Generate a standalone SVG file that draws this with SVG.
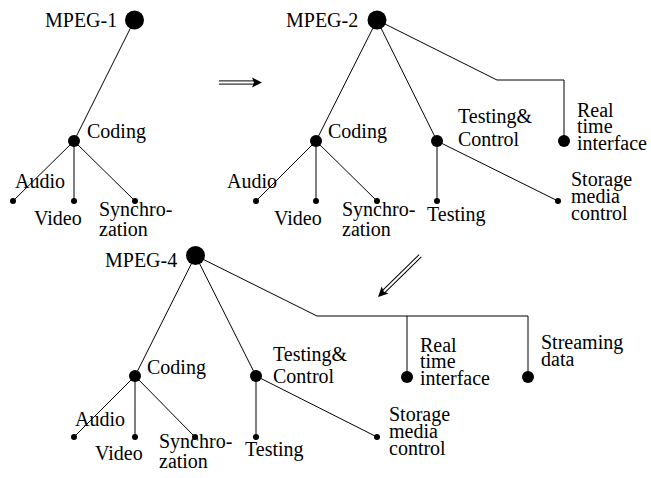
<svg xmlns="http://www.w3.org/2000/svg" width="651" height="478" viewBox="0 0 651 478">
<style>
text{font-family:"Liberation Serif","Times New Roman",serif;font-size:20px;fill:#000}
.c{stroke:#000;stroke-width:1;fill:none}
.n{fill:#000}
</style>
<defs>
<g id="dblarrow">
<line x1="-43" y1="-1.6" x2="-8" y2="-1.6" stroke="#000" stroke-width="1"/>
<line x1="-43" y1="1.6" x2="-8" y2="1.6" stroke="#000" stroke-width="1"/>
<polygon points="-10,-5 0,0 -10,5 -8,0" fill="#000"/>
</g>
<g id="dblarrow2">
<line x1="-59" y1="-1.6" x2="-8" y2="-1.6" stroke="#000" stroke-width="1"/>
<line x1="-59" y1="1.6" x2="-8" y2="1.6" stroke="#000" stroke-width="1"/>
<polygon points="-10,-5 0,0 -10,5 -8,0" fill="#000"/>
</g>
</defs>
<rect width="651" height="478" fill="#fff"/>
<g id="connectors" class="c">
<line x1="134.5" y1="20" x2="74" y2="141"/>
<line x1="74" y1="141" x2="13" y2="201"/>
<line x1="74" y1="141" x2="74" y2="201"/>
<line x1="74" y1="141" x2="135" y2="201"/>
<line x1="377" y1="20" x2="316" y2="141"/>
<line x1="377" y1="20" x2="437" y2="141"/>
<polyline points="377,20 497,80 564,80 564,141"/>
<line x1="316" y1="141" x2="256" y2="201"/>
<line x1="316" y1="141" x2="316" y2="201"/>
<line x1="316" y1="141" x2="377" y2="201"/>
<line x1="437" y1="141" x2="437" y2="201"/>
<line x1="437" y1="141" x2="558" y2="201"/>
<line x1="195.5" y1="255.5" x2="135" y2="376"/>
<line x1="195.5" y1="255.5" x2="256" y2="376"/>
<polyline points="195.5,255.5 317,316 528,316 528,377"/>
<line x1="407" y1="316" x2="407" y2="377"/>
<line x1="135" y1="376" x2="74" y2="437"/>
<line x1="135" y1="376" x2="135" y2="437"/>
<line x1="135" y1="376" x2="195" y2="437"/>
<line x1="256" y1="376" x2="256" y2="437"/>
<line x1="256" y1="376" x2="377" y2="437"/>
</g>
<g id="arrow-1-2"><use href="#dblarrow" transform="translate(262,82.5)"/></g>
<g id="arrow-2-4"><use href="#dblarrow2" transform="translate(378,297) rotate(135.7)"/></g>

<g id="mpeg1"><circle class="n" cx="134.5" cy="20" r="9.5"/><text x="45" y="26.5">MPEG-1</text></g>
<g id="mpeg1-coding"><circle class="n" cx="74" cy="141" r="6"/><text x="87" y="138">Coding</text></g>
<g id="mpeg1-audio"><circle class="n" cx="13" cy="201" r="3"/><text x="15" y="188">Audio</text></g>
<g id="mpeg1-video"><circle class="n" cx="74" cy="201" r="3"/><text x="34" y="225">Video</text></g>
<g id="mpeg1-sync"><circle class="n" cx="135" cy="201" r="3"/><text x="99" y="216">Synchro-</text><text x="99" y="236">zation</text></g>

<g id="mpeg2"><circle class="n" cx="377" cy="20" r="9.5"/><text x="286" y="26.5">MPEG-2</text></g>
<g id="mpeg2-coding"><circle class="n" cx="316" cy="141" r="6"/><text x="328" y="138">Coding</text></g>
<g id="mpeg2-tc"><circle class="n" cx="437" cy="141" r="6"/><text x="458" y="123">Testing&amp;</text><text x="458" y="146">Control</text></g>
<g id="mpeg2-rt"><circle class="n" cx="564" cy="141" r="6"/><text x="577" y="117">Real</text><text x="577" y="133">time</text><text x="577" y="150">interface</text></g>
<g id="mpeg2-audio"><circle class="n" cx="256" cy="201" r="3"/><text x="227" y="188">Audio</text></g>
<g id="mpeg2-video"><circle class="n" cx="316" cy="201" r="3"/><text x="274" y="225">Video</text></g>
<g id="mpeg2-sync"><circle class="n" cx="377" cy="201" r="3"/><text x="342" y="216">Synchro-</text><text x="342" y="236">zation</text></g>
<g id="mpeg2-testing"><circle class="n" cx="437" cy="201" r="3"/><text x="427" y="221">Testing</text></g>
<g id="mpeg2-storage"><circle class="n" cx="558" cy="201" r="3"/><text x="571" y="186">Storage</text><text x="571" y="203">media</text><text x="571" y="220">control</text></g>

<g id="mpeg4"><circle class="n" cx="195.5" cy="255.5" r="9.5"/><text x="105" y="267">MPEG-4</text></g>
<g id="mpeg4-coding"><circle class="n" cx="135" cy="376" r="6"/><text x="147" y="374">Coding</text></g>
<g id="mpeg4-tc"><circle class="n" cx="256" cy="376" r="6"/><text x="273" y="361">Testing&amp;</text><text x="273" y="383">Control</text></g>
<g id="mpeg4-rt"><circle class="n" cx="407" cy="377" r="6"/><text x="420" y="352">Real</text><text x="420" y="368">time</text><text x="420" y="385">interface</text></g>
<g id="mpeg4-stream"><circle class="n" cx="528" cy="377" r="6"/><text x="541" y="349">Streaming</text><text x="541" y="366">data</text></g>
<g id="mpeg4-audio"><circle class="n" cx="74" cy="437" r="3"/><text x="75" y="426">Audio</text></g>
<g id="mpeg4-video"><circle class="n" cx="135" cy="437" r="3"/><text x="95" y="460">Video</text></g>
<g id="mpeg4-sync"><circle class="n" cx="195" cy="437" r="3"/><text x="159" y="448">Synchro-</text><text x="159" y="468">zation</text></g>
<g id="mpeg4-testing"><circle class="n" cx="256" cy="437" r="3"/><text x="245" y="456">Testing</text></g>
<g id="mpeg4-storage"><circle class="n" cx="377" cy="437" r="3"/><text x="389" y="421">Storage</text><text x="389" y="438">media</text><text x="389" y="455">control</text></g>
</svg>
